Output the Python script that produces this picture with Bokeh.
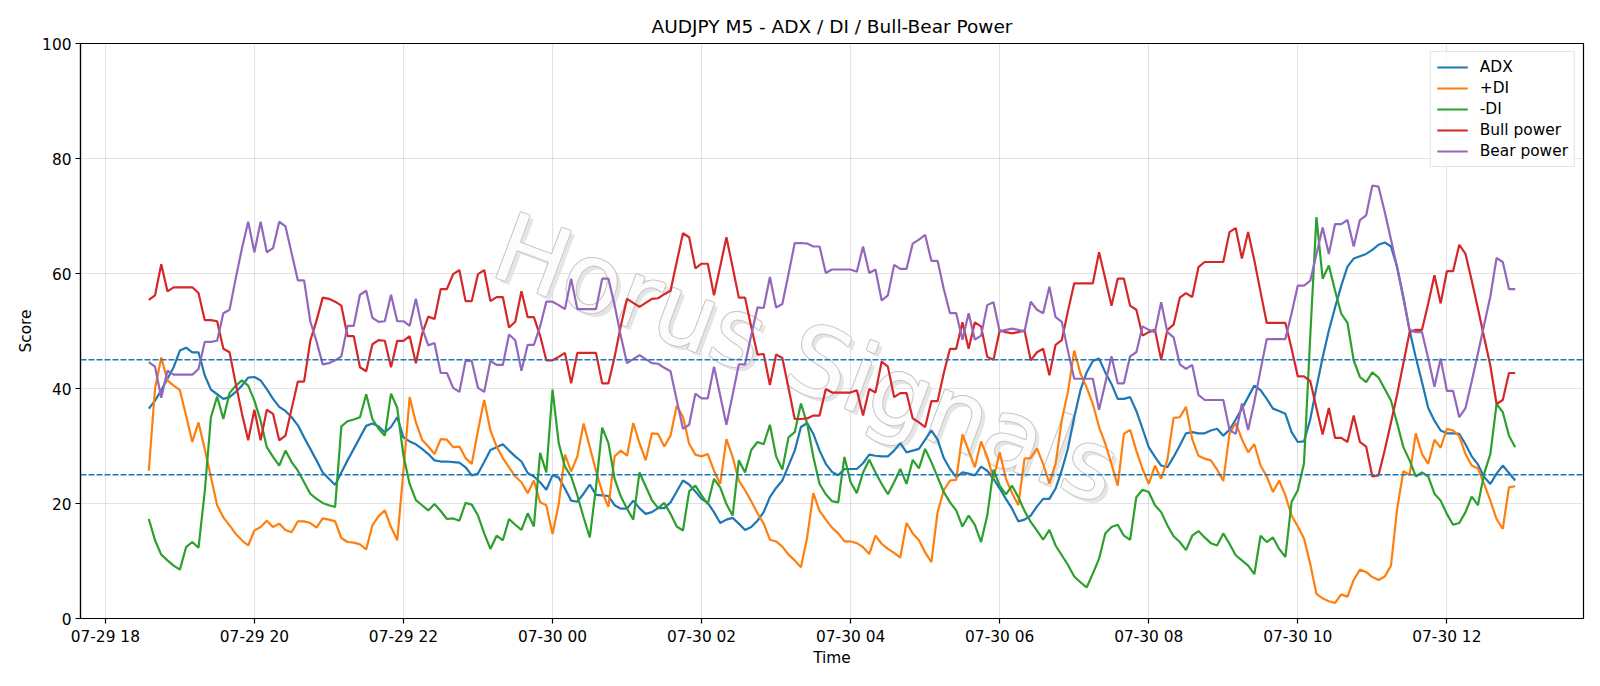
import pandas as pd
from bokeh.plotting import figure
from bokeh.models import (Range1d, FixedTicker, Span, Legend, LegendItem,
                          ColumnDataSource)
from bokeh.embed import file_html
from bokeh.resources import INLINE
from bokeh.core.properties import value

# ---------------- data ----------------
start_time = "2025-07-29 18:35"
bar_freq = "5min"

adx = [36.5, 37.9, 39.7, 41.7, 43.7, 46.6, 47.1, 46.3, 46.3, 42.3,
       39.8, 39.0, 38.2, 38.5, 39.4, 40.5, 41.9, 42.0, 41.4, 39.9,
       38.2, 36.8, 36.1, 35.0, 33.6, 31.5, 29.5, 27.5, 25.4, 24.3,
       23.2, 25.4, 27.5, 29.5, 31.5, 33.5, 33.9, 33.4, 32.4, 33.3,
       35.0, 31.5, 30.8, 30.3, 29.5, 28.6, 27.5, 27.3, 27.3, 27.2,
       27.1, 26.3, 24.9, 25.2, 27.2, 29.3, 29.8, 30.3, 29.2, 28.2,
       27.3, 25.3, 24.7, 23.7, 22.4, 24.9, 24.5, 22.6, 20.5, 20.3,
       21.7, 23.3, 21.5, 21.4, 21.3, 19.7, 19.1, 19.1, 20.5, 19.2,
       18.2, 18.5, 19.2, 19.2, 20.2, 22.1, 24.0, 23.3, 22.1, 20.8,
       20.1, 18.5, 16.6, 17.2, 17.5, 16.5, 15.4, 15.9, 17.0, 18.5,
       21.1, 22.7, 24.0, 26.6, 29.2, 33.3, 34.0, 32.1, 29.2, 26.9,
       25.5, 24.9, 26.0, 26.0, 26.0, 27.0, 28.5, 28.3, 28.2, 28.2,
       29.2, 30.5, 28.9, 29.2, 29.5, 31.1, 32.7, 31.1, 27.9, 26.0,
       24.6, 25.4, 25.2, 24.9, 26.4, 25.7, 24.3, 22.6, 20.8, 19.1,
       16.9, 17.2, 17.9, 19.5, 20.8, 20.8, 22.6, 25.8, 29.6, 35.0,
       39.7, 42.8, 44.8, 45.2, 42.8, 40.8, 38.2, 38.2, 38.5, 36.1,
       33.0, 29.8, 28.1, 26.6, 26.3, 28.1, 30.1, 32.2, 32.4, 32.2,
       32.2, 32.7, 33.0, 31.8, 32.8, 34.6, 36.5, 38.5, 40.5, 39.7,
       38.2, 36.5, 36.1, 35.6, 32.4, 30.7, 30.8, 34.6, 40.2, 45.4,
       50.1, 54.1, 57.9, 61.2, 62.6, 63.0, 63.4, 64.1, 65.0, 65.4,
       64.7, 61.1, 55.9, 50.1, 45.4, 41.1, 36.6, 34.4, 32.7, 32.2,
       32.2, 32.1, 30.3, 28.2, 26.8, 24.6, 23.4, 25.2, 26.6, 25.3,
       24.0]

plus_di = [25.7, 40.0, 45.4, 41.4, 40.5, 39.7, 35.3, 30.7, 34.1, 29.5,
           24.6, 19.7, 17.6, 16.2, 14.7, 13.6, 12.7, 15.3, 15.9, 17.0,
           15.9, 16.5, 15.4, 15.0, 16.9, 16.9, 16.6, 15.8, 17.4, 17.2,
           16.9, 14.0, 13.3, 13.2, 12.9, 12.0, 16.2, 17.8, 18.8, 15.9,
           13.6, 25.7, 38.5, 34.1, 31.1, 29.9, 28.6, 31.2, 31.1, 29.8,
           29.9, 27.9, 26.9, 32.7, 38.0, 32.7, 29.9, 27.9, 26.3, 24.7,
           23.7, 21.8, 24.0, 20.2, 19.7, 14.7, 19.9, 28.5, 25.6, 28.2,
           33.9, 29.8, 25.7, 22.0, 19.4, 28.2, 29.2, 28.3, 34.0, 30.5,
           27.5, 32.2, 32.1, 29.9, 31.8, 37.0, 35.1, 30.4, 28.5, 28.2,
           28.6, 25.7, 23.4, 31.2, 28.1, 24.0, 22.3, 20.4, 18.3, 16.5,
           13.7, 13.4, 12.5, 11.1, 10.1, 8.9, 14.1, 21.8, 18.7, 17.2,
           15.8, 14.8, 13.4, 13.4, 13.1, 12.4, 11.2, 14.4, 13.0, 12.1,
           11.4, 10.6, 16.6, 14.8, 13.6, 11.5, 9.8, 18.5, 22.3, 24.0,
           24.1, 32.0, 29.2, 26.3, 30.8, 28.1, 24.3, 28.9, 24.3, 21.8,
           19.7, 27.8, 27.9, 29.6, 26.9, 23.5, 26.9, 34.5, 39.5, 46.6,
           42.6, 40.2, 37.3, 33.3, 30.4, 26.9, 23.1, 32.1, 32.8, 29.2,
           26.0, 23.4, 26.6, 24.3, 27.6, 34.9, 35.0, 36.8, 31.2, 28.3,
           27.8, 27.5, 25.9, 23.9, 32.1, 34.0, 31.2, 28.9, 30.3, 26.6,
           24.7, 22.0, 24.0, 21.4, 17.9, 16.0, 13.9, 9.5, 4.3, 3.5,
           3.0, 2.7, 4.2, 3.8, 6.7, 8.5, 8.1, 7.2, 6.7, 7.3,
           9.2, 19.1, 25.6, 25.0, 32.2, 28.6, 26.9, 31.1, 29.7, 33.0,
           32.7, 31.7, 28.6, 26.6, 26.1, 23.4, 20.5, 17.3, 15.6, 22.8,
           23.0]

minus_di = [17.3, 13.6, 11.1, 10.1, 9.2, 8.5, 12.4, 13.3, 12.3, 22.0,
            35.0, 38.6, 34.7, 39.2, 40.5, 41.4, 40.5, 37.9, 34.4, 29.8,
            28.1, 26.6, 29.2, 27.2, 25.7, 23.7, 21.7, 20.8, 20.1, 19.7,
            19.4, 33.4, 34.3, 34.6, 35.0, 39.0, 34.7, 33.0, 31.8, 39.1,
            36.6, 28.3, 23.4, 20.6, 19.7, 18.8, 19.9, 18.7, 17.3, 17.4,
            17.0, 20.1, 19.8, 17.9, 14.8, 12.1, 14.4, 13.6, 17.3, 16.3,
            15.4, 18.3, 16.0, 28.8, 25.4, 39.8, 30.5, 26.4, 24.7, 21.4,
            17.6, 14.1, 22.8, 33.2, 30.5, 24.3, 21.2, 19.1, 17.2, 25.4,
            23.0, 20.6, 19.2, 20.1, 18.2, 16.0, 15.3, 22.1, 23.1, 21.4,
            19.9, 24.3, 22.8, 19.9, 17.9, 27.5, 25.4, 29.3, 30.7, 30.3,
            33.7, 28.2, 25.9, 31.5, 32.4, 37.4, 33.9, 28.1, 23.4, 21.6,
            20.4, 20.2, 28.1, 23.7, 21.8, 25.4, 27.6, 25.4, 23.4, 21.6,
            23.7, 26.0, 23.4, 27.6, 26.1, 29.5, 27.2, 24.6, 22.0, 20.2,
            18.8, 16.0, 17.9, 16.3, 13.3, 17.9, 25.9, 23.1, 21.6, 23.1,
            21.1, 18.7, 16.8, 15.3, 13.7, 15.4, 12.7, 11.0, 9.3, 7.3,
            6.3, 5.4, 7.8, 10.4, 14.8, 15.9, 16.3, 14.4, 13.7, 21.1,
            22.4, 22.0, 19.7, 18.5, 16.2, 14.3, 13.3, 11.9, 14.4, 15.2,
            14.1, 13.1, 12.7, 14.8, 13.0, 11.0, 10.1, 9.2, 7.7, 14.4,
            13.3, 14.1, 12.1, 10.7, 20.3, 22.3, 27.0, 49.0, 69.8, 59.1,
            61.4, 57.0, 53.0, 51.4, 44.9, 42.0, 41.1, 42.8, 41.9, 39.9,
            37.9, 33.9, 29.8, 27.5, 24.7, 25.4, 24.7, 21.7, 20.5, 18.2,
            16.3, 16.6, 18.5, 21.2, 19.7, 25.2, 28.6, 37.3, 35.9, 31.8,
            29.8]

bull_power = [55.4, 56.2, 61.6, 56.9, 57.6, 57.6, 57.6, 57.6, 56.6, 51.9,
              51.9, 51.7, 46.9, 46.3, 40.8, 35.6, 31.0, 36.3, 31.0, 36.3,
              35.6, 31.0, 31.8, 36.5, 41.2, 41.2, 48.3, 51.8, 55.8, 55.6,
              55.1, 54.4, 49.1, 49.1, 43.7, 43.0, 47.7, 48.4, 48.3, 43.7,
              48.3, 48.3, 49.1, 44.4, 49.5, 52.5, 52.1, 57.3, 57.3, 59.9,
              60.6, 55.2, 55.2, 59.9, 60.6, 55.2, 55.9, 55.9, 50.6, 51.6,
              56.9, 52.4, 52.4, 49.2, 44.9, 44.9, 45.5, 46.2, 40.9, 46.2,
              46.2, 46.2, 46.2, 40.9, 40.9, 45.5, 50.9, 55.6, 54.9, 54.2,
              54.9, 55.6, 55.7, 56.4, 57.0, 62.0, 67.0, 66.3, 60.9, 61.7,
              61.7, 56.2, 61.2, 66.3, 61.1, 55.8, 55.8, 50.7, 45.9, 46.0,
              40.6, 45.9, 45.3, 40.1, 34.7, 34.7, 34.8, 35.3, 35.3, 39.9,
              39.3, 39.3, 39.3, 39.3, 39.7, 35.3, 39.9, 39.3, 44.7, 43.8,
              38.5, 39.2, 39.2, 34.8, 34.1, 33.3, 37.8, 37.8, 42.7, 46.9,
              46.9, 51.5, 46.9, 51.5, 50.8, 45.5, 45.0, 50.1, 49.8, 49.6,
              49.8, 50.1, 44.9, 46.3, 46.9, 42.3, 47.6, 48.4, 53.5, 58.3,
              58.3, 58.3, 58.3, 63.7, 59.1, 54.4, 59.1, 59.1, 54.4, 53.7,
              49.2, 49.8, 50.2, 45.0, 50.2, 51.1, 55.8, 56.6, 55.9, 61.1,
              62.0, 62.0, 62.0, 62.0, 67.2, 67.9, 62.6, 67.2, 62.3, 56.8,
              51.4, 51.4, 51.4, 51.4, 46.9, 42.1, 42.1, 41.3, 36.6, 32.0,
              36.6, 31.4, 31.4, 30.7, 35.3, 30.7, 29.9, 24.7, 24.9, 29.3,
              34.1, 39.0, 44.4, 49.8, 50.2, 50.2, 54.8, 59.7, 54.8, 60.4,
              60.4, 65.0, 63.4, 58.8, 53.9, 48.9, 44.0, 37.3, 38.0, 42.7,
              42.7]

bear_power = [44.6, 43.8, 38.4, 43.1, 42.4, 42.4, 42.4, 42.4, 43.4, 48.1,
              48.1, 48.3, 53.1, 53.7, 59.2, 64.4, 69.0, 63.7, 69.0, 63.7,
              64.4, 69.0, 68.2, 63.5, 58.8, 58.8, 51.7, 48.2, 44.2, 44.4,
              44.9, 45.6, 50.9, 50.9, 56.3, 57.0, 52.3, 51.6, 51.7, 56.3,
              51.7, 51.7, 50.9, 55.6, 50.5, 47.5, 47.9, 42.7, 42.7, 40.1,
              39.4, 44.8, 44.8, 40.1, 39.4, 44.8, 44.1, 44.1, 49.4, 48.4,
              43.1, 47.6, 47.6, 50.8, 55.1, 55.1, 54.5, 53.8, 59.1, 53.8,
              53.8, 53.8, 53.8, 59.1, 59.1, 54.5, 49.1, 44.4, 45.1, 45.8,
              45.1, 44.4, 44.3, 43.6, 43.0, 38.0, 33.0, 33.7, 39.1, 38.3,
              38.3, 43.8, 38.8, 33.7, 38.9, 44.2, 44.2, 49.3, 54.1, 54.0,
              59.4, 54.1, 54.7, 59.9, 65.3, 65.3, 65.2, 64.7, 64.7, 60.1,
              60.7, 60.7, 60.7, 60.7, 60.3, 64.7, 60.1, 60.7, 55.3, 56.2,
              61.5, 60.8, 60.8, 65.2, 65.9, 66.7, 62.2, 62.2, 57.3, 53.1,
              53.1, 48.5, 53.1, 48.5, 49.2, 54.5, 55.0, 49.9, 50.2, 50.4,
              50.2, 49.9, 55.1, 53.7, 53.1, 57.7, 52.4, 51.6, 46.5, 41.7,
              41.7, 41.7, 41.7, 36.3, 40.9, 45.6, 40.9, 40.9, 45.6, 46.3,
              50.8, 50.2, 49.8, 55.0, 49.8, 48.9, 44.2, 43.4, 44.1, 38.9,
              38.0, 38.0, 38.0, 38.0, 32.8, 32.1, 37.4, 32.8, 37.7, 43.2,
              48.6, 48.6, 48.6, 48.6, 53.1, 57.9, 57.9, 58.7, 63.4, 68.0,
              63.4, 68.6, 68.6, 69.3, 64.7, 69.3, 70.1, 75.3, 75.1, 70.7,
              65.9, 61.0, 55.6, 50.2, 49.8, 49.8, 45.2, 40.3, 45.2, 39.6,
              39.6, 35.0, 36.6, 41.2, 46.1, 51.1, 56.0, 62.7, 62.0, 57.3,
              57.3]

threshold_levels = [45, 25]

tick_times = ["2025-07-29 18:00", "2025-07-29 20:00", "2025-07-29 22:00",
              "2025-07-30 00:00", "2025-07-30 02:00", "2025-07-30 04:00",
              "2025-07-30 06:00", "2025-07-30 08:00", "2025-07-30 10:00",
              "2025-07-30 12:00"]
tick_labels = ["07-29 18", "07-29 20", "07-29 22", "07-30 00", "07-30 02",
               "07-30 04", "07-30 06", "07-30 08", "07-30 10", "07-30 12"]
y_ticks = [0, 20, 40, 60, 80, 100]

series_names = ["ADX", "+DI", "-DI", "Bull power", "Bear power"]
series_colors = ["#1f77b4", "#ff7f0e", "#2ca02c", "#d62728", "#9467bd"]

title_text = "AUDJPY M5 - ADX / DI / Bull-Bear Power"
watermark_text = "Horus Signals"

# ---------------- build ----------------
times = pd.date_range(start_time, periods=len(adx), freq=bar_freq)
span = times[-1] - times[0]
x_start = times[0] - span * 0.05
x_end = times[-1] + span * 0.05

FONT = "DejaVu Sans"
W, H = 1600, 686
ML, MR, MT, MB = 80, 17, 43, 68
TICK_FS = "15.4px"
TITLE_FS = "18.5px"

p = figure(width=W, height=H, x_axis_type="datetime",
           x_range=Range1d(x_start, x_end), y_range=Range1d(0, 100),
           output_backend="svg", toolbar_location=None,
           min_border_left=ML, min_border_right=MR,
           min_border_top=MT, min_border_bottom=MB,
           title=title_text)

p.title.text_font = FONT
p.title.text_font_size = TITLE_FS
p.title.text_font_style = "normal"
p.title.align = "center"
p.title.text_color = "black"
p.title.standoff = 13

p.outline_line_color = "black"
p.outline_line_width = 1.2
p.background_fill_color = "white"
p.border_fill_color = "white"

tick_ms = [int(pd.Timestamp(t).value // 10**6) for t in tick_times]
p.xaxis.ticker = FixedTicker(ticks=tick_ms)
p.xaxis.major_label_overrides = {ms: lab for ms, lab in zip(tick_ms, tick_labels)}
p.yaxis.ticker = FixedTicker(ticks=y_ticks)

for ax in (p.xaxis, p.yaxis):
    ax.major_label_text_font = FONT
    ax.major_label_text_font_size = TICK_FS
    ax.major_label_text_color = "black"
    ax.axis_label_text_font = FONT
    ax.axis_label_text_font_size = TICK_FS
    ax.axis_label_text_font_style = "normal"
    ax.axis_label_text_color = "black"
    ax.axis_line_color = "black"
    ax.axis_line_width = 1.2
    ax.major_tick_line_color = "black"
    ax.major_tick_line_width = 1.2
    ax.major_tick_out = 5
    ax.major_tick_in = 0
    ax.minor_tick_line_color = None
    ax.major_label_standoff = 4

p.xaxis.axis_label_standoff = 0
p.yaxis.axis_label_standoff = 4
p.xaxis.axis_label = "Time"
p.yaxis.axis_label = "Score"

for g in (p.xgrid, p.ygrid):
    g.grid_line_color = "#b0b0b0"
    g.grid_line_alpha = 0.35
    g.grid_line_width = 1.1

# watermark (position converted from pixel placement to data space)
frame_w = W - ML - MR
frame_h = H - MT - MB
wm_px, wm_py = 806, 358
wm_x = x_start + (x_end - x_start) * ((wm_px - ML) / frame_w)
wm_y = 100 * ((H - MB - wm_py) / frame_h)
wm_src = ColumnDataSource(dict(x=[wm_x], y=[wm_y], t=[watermark_text]))
wm_kw = dict(x="x", y="y", text="t", source=wm_src, angle=-20.5,
             angle_units="deg", text_font=value(FONT), text_font_size="96px",
             text_align="center", text_baseline="middle")
# soft drop shadow
p.text(text_color="#dedede", text_alpha=0.8, x_offset=4, y_offset=4, **wm_kw)
# thin grey outline
for dx, dy in [(-1, 0), (1, 0), (0, -1), (0, 1),
               (-0.7, -0.7), (0.7, 0.7), (-0.7, 0.7), (0.7, -0.7)]:
    p.text(text_color="#c9c9c9", text_alpha=1.0, x_offset=dx, y_offset=dy, **wm_kw)
# light fill
p.text(text_color="white", text_alpha=0.95, **wm_kw)

src = ColumnDataSource(dict(t=times, adx=adx, pdi=plus_di, mdi=minus_di,
                            bull=bull_power, bear=bear_power))
cols = ["adx", "pdi", "mdi", "bull", "bear"]
items = []
for col, name, color in zip(cols, series_names, series_colors):
    r = p.line(x="t", y=col, source=src, line_color=color, line_width=2.2)
    items.append(LegendItem(label=name, renderers=[r]))

for lvl in threshold_levels:
    p.add_layout(Span(location=lvl, dimension="width", line_color="#1f77b4",
                      line_dash="6 2", line_width=1.5))

legend = Legend(items=items, location="top_right")
legend.label_text_font = FONT
legend.label_text_font_size = TICK_FS
legend.label_text_color = "black"
legend.glyph_width = 31
legend.glyph_height = 16
legend.label_height = 16
legend.label_standoff = 12
legend.spacing = 3
legend.padding = 6
legend.margin = 8
legend.border_line_color = "#cccccc"
legend.border_line_width = 1
legend.background_fill_color = "white"
legend.background_fill_alpha = 0.8
p.add_layout(legend)

open("out.html", "w").write(file_html(p, INLINE))
